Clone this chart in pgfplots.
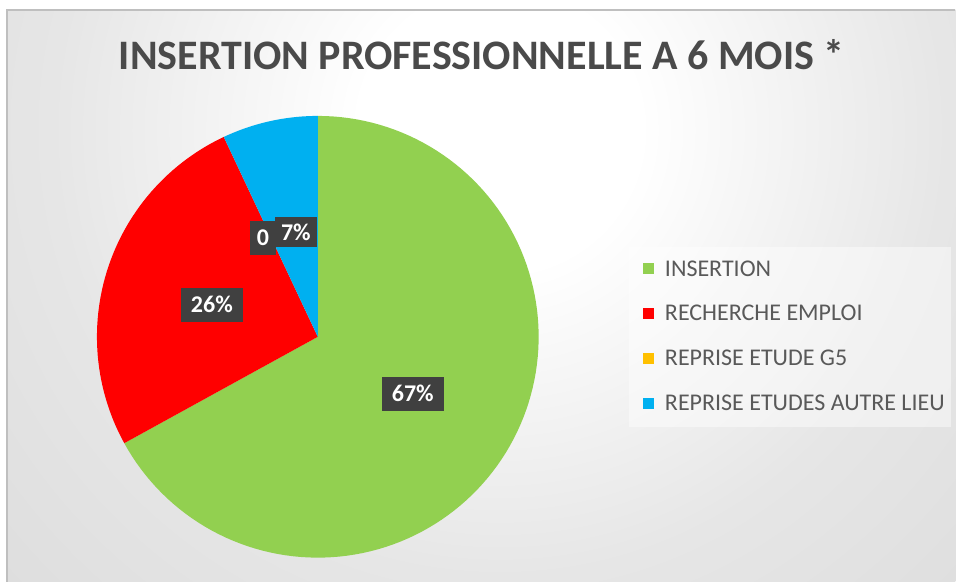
\documentclass[border=0pt]{standalone}
\usepackage{pgfplots}
\pgfplotsset{compat=1.18}
\usepackage{fontspec}
\setmainfont{Carlito}
\definecolor{cGreen}{HTML}{92D050}
\definecolor{cRed}{HTML}{FF0000}
\definecolor{cYellow}{HTML}{FFC000}
\definecolor{cBlue}{HTML}{00B0F0}
\definecolor{lblbox}{HTML}{404040}
\definecolor{txtgray}{HTML}{595959}
\definecolor{titlegray}{HTML}{4A4A4A}
\definecolor{bgA}{HTML}{E6E6E6}
\definecolor{bgB}{HTML}{D8D8D8}
\definecolor{bgC}{HTML}{C4C4C4}
\pgfdeclareradialshading{bgshade}{\pgfpoint{0bp}{0bp}}{color(0bp)=(white); color(5bp)=(white); color(16bp)=(bgA); color(30bp)=(bgB); color(46bp)=(bgC); color(50bp)=(bgC)}
% data (percent)
\def\vA{67}\def\vB{26}\def\vC{0}\def\vD{7}
\begin{document}
\begin{tikzpicture}
\begin{scope}[x=0.5pt,y=-0.5pt,yshift=291pt]
  \fill[white] (0,0) rectangle (956,582);
  \begin{scope}
    \clip (7,10) rectangle (956,582);
    \shade[shading=bgshade] (500,130) circle (700);
  \end{scope}
  \draw[color=black!25, line width=0.6pt] (956,10) -- (7,10) -- (7,582);
\end{scope}
\pgfmathsetmacro{\aA}{90}
\pgfmathsetmacro{\aB}{90-3.6*\vA}
\pgfmathsetmacro{\aC}{\aB-3.6*\vB}
\pgfmathsetmacro{\aD}{\aC-3.6*\vC}
\pgfmathsetmacro{\aE}{\aD-3.6*\vD}
\tikzset{lbl/.style={fill=lblbox, text=white, font=\fontsize{12}{14}\selectfont\bfseries, inner xsep=5pt, minimum height=17pt, inner ysep=2pt},
  legtxt/.style={anchor=west, text=txtgray, font=\fontsize{12}{14}\selectfont, inner sep=0pt}}
\begin{axis}[
  at={(0,0)}, anchor=origin,
  scale only axis, width=478pt, height=291pt,
  xmin=0, xmax=956, ymin=0, ymax=582,
  hide axis, clip=false,
]
\addplot[fill=cGreen, draw=none, domain=\aB:\aA, samples=120, variable=\t]
  ({318+221*cos(\t)},{245+221*sin(\t)}) -- (318,245) -- cycle;
\addplot[fill=cRed, draw=none, domain=\aC:\aB, samples=60, variable=\t]
  ({318+221*cos(\t)},{245+221*sin(\t)}) -- (318,245) -- cycle;
\addplot[fill=cBlue, draw=none, domain=\aE:\aD, samples=20, variable=\t]
  ({318+221*cos(\t)},{245+221*sin(\t)}) -- (318,245) -- cycle;
% data labels
\node[lbl] at (413,188) {67\%};
\node[lbl] at (212,277) {26\%};
\node[lbl, inner xsep=3.5pt] at (263,344) {0};
\node[lbl, inner xsep=3pt, minimum height=15pt] at (296,350) {7\%};
% title
\node[text=titlegray, font=\fontsize{21}{25}\selectfont\bfseries] at (482,527) {INSERTION PROFESSIONNELLE A 6 MOIS *};
% legend
\fill[white, fill opacity=0.45] (629,335) rectangle (952,155);
\fill[cGreen] (643,308) rectangle (654,319);
\node[legtxt] at (665,313.5) {INSERTION};
\fill[cRed] (643,263) rectangle (654,274);
\node[legtxt] at (665,268.5) {RECHERCHE EMPLOI};
\fill[cYellow] (643,218) rectangle (654,229);
\node[legtxt] at (665,223.5) {REPRISE ETUDE G5};
\fill[cBlue] (643,173) rectangle (654,184);
\node[legtxt] at (665,178.5) {REPRISE ETUDES AUTRE LIEU};
\end{axis}
\end{tikzpicture}
\end{document}
